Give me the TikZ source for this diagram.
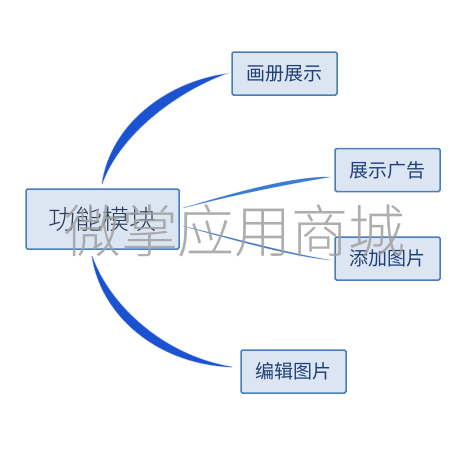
\documentclass[tikz,border=0pt]{standalone}
\usepackage{fontspec}
\newfontfamily\cjk{Noto Sans CJK SC}
\newfontfamily\cjklight{Noto Sans CJK SC Light}
\definecolor{boxfill}{HTML}{DCE6F2}
\definecolor{boxline}{HTML}{4A7EBB}
\definecolor{boxtext}{HTML}{1F3F7A}
\definecolor{maintext}{HTML}{2B3C5C}
\definecolor{linkA}{HTML}{1A52D0}
\definecolor{linkB}{HTML}{3A7BD5}
\definecolor{linkC}{HTML}{4A7CC8}
\definecolor{wmgray}{HTML}{A0A0A0}
\begin{document}
\begin{tikzpicture}[x=1pt,y=-1pt,
  topic/.style={draw=boxline,fill=boxfill,line width=1.5pt,rounded corners=1.5pt,
    minimum width=105pt,minimum height=43pt,inner sep=0pt,
    font=\cjk\fontsize{19}{19}\selectfont,text=boxtext},
  maintopic/.style={topic,minimum width=153pt,minimum height=60pt,
    font=\cjklight\fontsize{27}{27}\selectfont,text=maintext},
  branchA/.style={fill=linkA,draw=linkA,draw opacity=0.35,line width=1.2pt},
  branchB/.style={fill=linkB,draw=linkB,draw opacity=0.35,line width=0.8pt},
  branchC/.style={fill=linkC,draw=linkC,draw opacity=0.35,line width=0.6pt}]
\useasboundingbox[fill=white] (0,0) rectangle (464,464);
% nodes
\node[maintopic] (main) at (102.5,219) {功能模块};
\node[topic] (album) at (284.5,73.5) {画册展示};
\node[topic] (ad) at (387.5,170) {展示广告};
\node[topic] (add) at (387.5,258.5) {添加图片};
\node[topic] (edit) at (293.5,371.5) {编辑图片};
% anchors for tapered connectors
\coordinate (s1) at (102,184);
\coordinate (e1) at (225,74);
\coordinate (s2) at (183,208);
\coordinate (e2) at (330,177);
\coordinate (s3) at (183,226);
\coordinate (e3) at (330,260);
\coordinate (s4) at (92,256);
\coordinate (e4) at (232,367);
% connectors (tapered)
\fill[branchA] (s1) .. controls (110.5,125) and (165.5,83) .. (e1)
   .. controls (174.5,93) and (119.5,135) .. (s1) -- cycle;
\fill[branchB] (s2) .. controls (230,194.3) and (290,176.5) .. (e2)
   .. controls (290,183.5) and (230,195.7) .. (s2) -- cycle;
\fill[branchC] (s3) .. controls (230,237.2) and (290,253.8) .. (e3)
   .. controls (290,256.2) and (230,238.8) .. (s3) -- cycle;
\fill[branchA] (s4) .. controls (109.5,306) and (164.5,356) .. (e4)
   .. controls (155.5,364) and (100.5,314) .. (s4) -- cycle;
% watermark
\node[text=wmgray,opacity=0.85,font=\cjklight\fontsize{57}{57}\selectfont,inner sep=0pt] (wm) at (235,231) {微掌应用商城};
\end{tikzpicture}
\end{document}
